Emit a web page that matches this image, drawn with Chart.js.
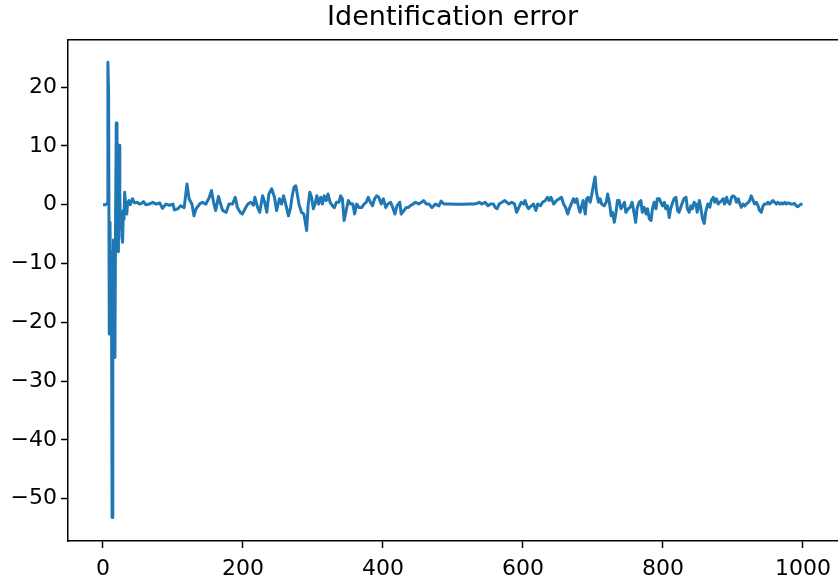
<!DOCTYPE html>
<html>
<head>
<meta charset="utf-8">
<script src="https://cdn.jsdelivr.net/npm/chart.js@4/dist/chart.umd.min.js"></script>
<style>
html,body{margin:0;padding:0;background:#fff;}
#wrap{width:839px;height:579px;position:relative;}
</style>
</head>
<body>
<div id="wrap"><canvas id="c"></canvas></div>
<script>
const chartTitle = "Identification error";
const xTicks = [0, 200, 400, 600, 800, 1000];
const yTicks = [-50, -40, -30, -20, -10, 0, 10, 20];

const stepValues = [
  0, 2, 4, 6, 7, 8, 9, 10, 11, 12, 13, 14, 15, 16, 17, 18, 19, 20, 21, 22, 23, 24, 25, 26, 27, 28, 29, 30, 31, 32, 33, 34, 35, 37, 39, 42, 45, 49, 52, 55, 58, 61, 66, 71, 76, 81, 85, 90, 95, 100, 102, 107, 111, 116, 120, 123, 127, 130, 133, 138, 142, 147, 152, 155, 158, 161, 165, 168, 171, 176, 180, 185, 189, 192, 196, 199, 204, 207, 211, 215, 217, 221, 224, 228, 231, 234, 237, 241, 245, 248, 252, 255, 258, 261, 265,
  268, 270, 273, 275.5, 278, 280, 283.5, 287, 291, 293, 295.5, 298, 300.5, 303, 305.5, 308, 311, 313.5, 316, 319, 321.5, 324.5, 328, 330.5, 333.5, 337, 339.5, 342, 344.5, 348, 350.5, 354, 357, 359.5, 362.5, 366, 369.5, 373, 376, 379, 382, 385, 388, 391, 394, 397.5, 400.5, 404, 407, 411, 414, 417, 420, 424, 426, 430, 433, 436, 439, 443, 446.5, 451, 455, 458, 462, 466,
  470, 475, 480, 483, 487, 494, 505, 515, 522.5, 530, 534, 538, 541, 546, 550, 553, 558, 560.5, 563, 566, 570, 574, 577, 580, 584, 588, 591, 594, 597.5, 601, 603, 605.5, 608, 612, 615, 618.5, 621, 625, 628, 632, 635, 637.5, 640, 644, 646, 648, 652, 655, 658, 661, 664,
  667, 670, 672, 674.5, 677, 679, 681.5, 684, 686, 689, 691, 693.5, 696, 698, 700.5, 703, 705, 708, 710, 712.5, 716, 719, 721, 723.5, 726, 728, 730.5, 733, 735, 737.5, 740, 742.5, 745, 747, 750.5, 753, 756, 759, 761, 763, 766, 768.5, 770.5, 773, 776, 778, 780.5, 783, 785, 787.5, 790, 792, 795, 797, 799.5, 802, 804, 806.5, 809, 811, 814, 816, 818.5, 821, 823, 825.5, 828, 830, 833, 835, 837.5, 840, 842, 844.5, 847, 849, 852, 854, 856.5, 859, 861,
  864, 867, 869, 872, 874, 876.5, 879, 881, 884, 886, 888, 891, 893, 895.5, 898, 900, 903, 905, 907.5, 910, 912, 914.5, 917, 919, 922, 924, 926, 929, 931, 933.5, 936, 938, 940.5, 943, 945, 948, 950, 952.5, 955, 957, 959.5, 962, 964, 967, 969, 971, 974, 976, 979, 981, 983, 986, 988, 990.5, 993, 995, 998, 999
];

const errorValues = [
  0, 0, 0, 0.2, 24.2, 18.8, -22, -3, -18, -8, -53.2, -25, -6, -20, -26, -2, 13.9, 12, -2, -8, 10.1, 2, -4, -1.5, -5.5, -6.4, -1, -2.5, 2.1, 0.5, -0.8, -1.6, 0.2, 0.7, 0, 1.0, 0.3, 0.4, 0.1, 0.2, 0.5, 0, 0.1, 0.4, 0.1, 0.3, -0.6, 0.1, -0.1, 0.1, -0.9, -0.7, -0.2, -0.5, 3.5, 1.0, 0.1, -1.9, -0.7, 0.1, 0.4, 0.1, 1.25, 2.4, 0.4, -1.0, 1.4, 0.1, -1.0, -1.3, 0.1, 0.1, 1.25, -0.5, -1.3, -1.6, -0.5, 0.1, 0.4, -0.1, 1.25, -0.5, -1.3, 1.5, 0.4, -1.3, 1.8, 2.7, 1.25, -1.0, 1.0, 0.1, 1.5, 0.1, -1.9,
  -0.5, 1.25, 3.0, 3.2, 1.5, 0.1, -1.3, -1.6, -4.4, -0.2, 2.1, 1.25, -0.7, 0.1, 1.5, 0.1, 1.25, 0.1, 1.5, 0.7, 1.8, 0.4, -0.2, -0.5, 0.4, 0.4, 1.5, 1.0, -2.7, -0.7, 0.7, 0.1, 0.1, -1.6, 0.1, -0.5, -0.5, 0.1, 0.4, 1.25, 0.4, -0.2, 1.0, 1.5, 1.25, 0.1, 1.0, -0.5, 0.1, 0.4, -0.5, -1.6, -0.2, 0.4, -1.6, -1.0, -0.5, -0.5, -0.2, 0.1, 0.4, 0.1, 0.4, 0.7, 0.1, 0.1,
  -0.5, 0.1, -0.2, 0.6, 0.1, 0.1, 0.05, 0.05, 0.1, 0.1, 0.2, 0.4, 0.1, 0.4, -0.2, 0.1, 0.1, -0.5, -0.7, 0.1, 0.4, 0.7, 0.4, 0.1, 0.4, 0.1, -1.3, -0.5, 0.4, 0.1, 0.7, -0.2, -0.7, -0.2, 0.1, -1.0, 0.1, -0.2, 0.4, 0.7, 1.25, 0.7, 1.25, 0.1, 0.4, 0.7, 1.0, 1.25, 0.1, -0.5, -1.6,
  -0.45, 0.4, 1.0, 0.4, 1.0, -0.2, -1.3, -0.2, 0.7, -1.6, 1.0, 1.25, 0.4, 1.5, 3.2, 4.7, 2.1, 0.4, 1.0, 0.1, -0.2, 0.4, 1.8, 0.4, -1.9, -1.3, -3.0, -1.3, 0.7, 0.7, -0.7, -0.2, 0.4, -1.3, -0.7, -0.45, 0.4, -1.6, -3.0, -0.7, 0.4, 0.7, -1.3, -0.45, -1.6, -0.7, -2.4, -2.7, -0.7, 0.4, -0.7, 1.0, 1.0, 0.4, -0.2, 0.4, -0.7, -0.2, -2.2, -0.7, 0.4, 1.0, 1.25, -1.0, -1.3, -0.45, 0.4, 1.0, 1.25, -0.7, -1.3, -0.2, -0.7, 0.4, 0.1, -1.3, 0.7, -0.45, -2.4, -3.2, -1.3,
  0.1, -0.45, 0.7, 1.25, 0.4, 1.0, 0.1, 0.4, 0.7, 1.0, 0.1, 1.25, 0.4, 0.1, 1.25, 1.5, 1.25, 0.4, 1.0, 0.1, -0.45, 0.1, -0.2, 0.1, 0.4, 0.7, 1.5, 0.7, 0.1, 0.4, -0.2, -1.0, -1.3, -0.2, 0.1, 0.1, 0.4, 0.1, 0.4, 0.7, 0.4, 0.1, 0.4, 0.1, 0.3, 0.1, 0.4, 0.1, 0.3, 0.2, 0.1, 0.1, 0.2, -0.2, -0.35, -0.1, 0.1, 0.2
];

const points = stepValues.map((x, i) => ({ x: x, y: errorValues[i] }));
const fontFamily = "'DejaVu Sans', sans-serif";
const fmt = v => String(v).replace('-', '\u2212');

new Chart(document.getElementById('c'), {
  type: 'line',
  data: {
    datasets: [{
      data: points,
      borderColor: '#1f77b4',
      backgroundColor: '#1f77b4',
      borderWidth: 3,
      pointRadius: 0,
      tension: 0,
      fill: false,
      borderJoinStyle: 'round',
      borderCapStyle: 'butt'
    }]
  },
  options: {
    responsive: true,
    maintainAspectRatio: false,
    animation: false,
    layout: { padding: { left: 0, right: 0, top: 0, bottom: 0 } },
    plugins: {
      legend: { display: false },
      tooltip: { enabled: false },
      title: {
        display: true,
        text: chartTitle,
        fullSize: false,
        color: '#000',
        font: { family: fontFamily, size: 27, weight: 'normal' },
        padding: { top: 1.5, bottom: 6.1 }
      }
    },
    scales: {
      x: {
        type: 'linear',
        position: 'bottom',
        min: -50,
        max: 1049,
        afterBuildTicks: s => { s.ticks = xTicks.map(v => ({ value: v })); },
        afterFit: s => { s.height = 38; },
        ticks: { color: '#000', font: { family: fontFamily, size: 22 }, padding: 8, maxRotation: 0, autoSkip: false, callback: v => fmt(v) },
        grid: { display: true, drawOnChartArea: false, drawTicks: true, tickLength: 7, tickWidth: 1.5, tickColor: '#000' },
        border: { display: true, color: '#000', width: 1.5 }
      },
      xTop: {
        type: 'linear',
        position: 'top',
        min: -50,
        max: 1049,
        afterFit: s => { s.height = 0; },
        ticks: { display: false },
        grid: { display: false, drawTicks: false },
        border: { display: true, color: '#000', width: 1.5 }
      },
      y: {
        type: 'linear',
        min: -57.2,
        max: 28,
        afterBuildTicks: s => { s.ticks = yTicks.map(v => ({ value: v })); },
        afterFit: s => { s.width = 68; },
        ticks: { color: '#000', font: { family: fontFamily, size: 22 }, padding: 4, autoSkip: false, callback: v => fmt(v) },
        grid: { display: true, drawOnChartArea: false, drawTicks: true, tickLength: 7, tickWidth: 1.5, tickColor: '#000' },
        border: { display: true, color: '#000', width: 1.5 }
      }
    }
  }
});
</script>
</body>
</html>
